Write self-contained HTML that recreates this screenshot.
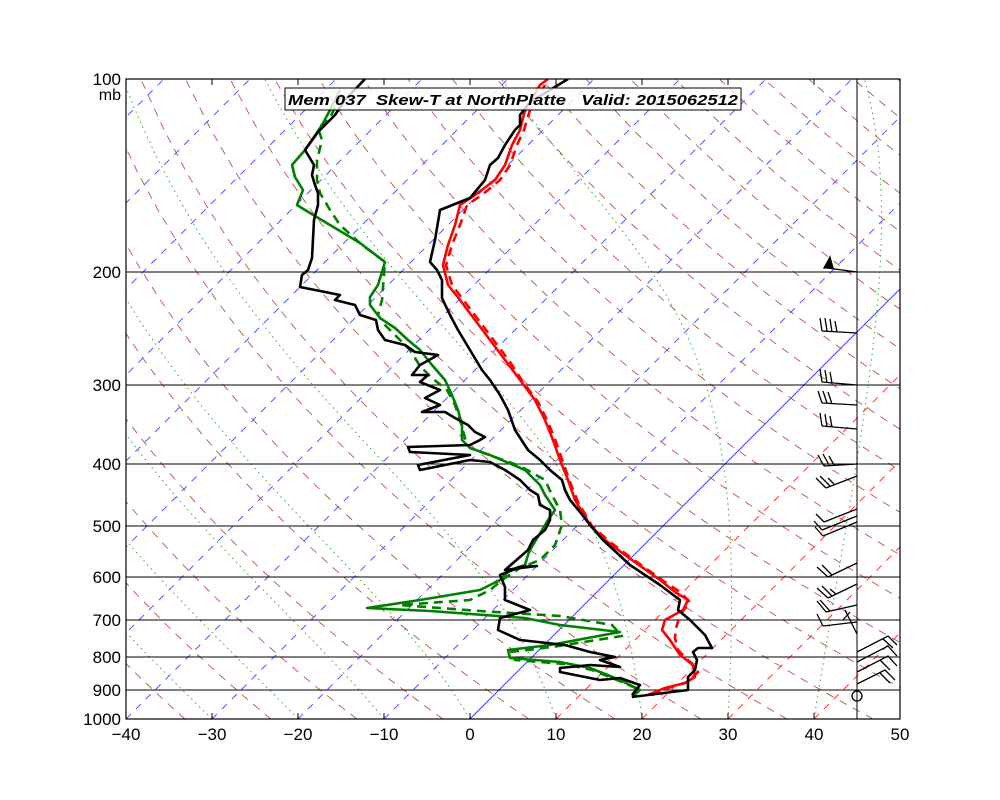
<!DOCTYPE html>
<html><head><meta charset="utf-8">
<style>
html,body{margin:0;padding:0;background:#fff;}
svg{display:block;font-family:"Liberation Sans","DejaVu Sans",sans-serif;}
</style></head>
<body>
<svg id="s" width="1000" height="800" viewBox="0 0 1000 800" xmlns="http://www.w3.org/2000/svg">
<defs><clipPath id="c"><rect x="126" y="79" width="774" height="640"/></clipPath></defs>
<rect width="1000" height="800" fill="#fff"/>
<g id="bg" clip-path="url(#c)"></g>
<g stroke="#000" stroke-width="1">
<line x1="126" y1="272" x2="900" y2="272"/>
<line x1="126" y1="385" x2="900" y2="385"/>
<line x1="126" y1="464" x2="900" y2="464"/>
<line x1="126" y1="526" x2="900" y2="526"/>
<line x1="126" y1="577" x2="900" y2="577"/>
<line x1="126" y1="620" x2="900" y2="620"/>
<line x1="126" y1="657" x2="900" y2="657"/>
<line x1="126" y1="690" x2="900" y2="690"/>
<line x1="857" y1="79" x2="857" y2="719"/>
</g>
<g clip-path="url(#c)" fill="none" stroke-width="2.6" stroke-linejoin="round">
<polyline stroke="#008000" stroke-dasharray="9,6" points="632,697 640,690 622,682 592,670 565,664 515,660 510,652 552,647 622,636 612,625 560,616 480,611 400,605 470,600 490,590 505,578 520,568 540,560 555,545 562,525 560,510 552,495 545,480 520,466 492,456 470,448 465,438 460,420 455,405 447,390 432,378 420,366 410,350 400,340 385,325 378,315 382,300 385,262 362,245 340,225 330,210 320,193 317,180 317,160 322,140 318,128 330,118 336,105 345,90"/>
<polyline stroke="#008000" points="632,697 640,690 620,680 590,668 560,662 510,658 508,650 550,645 620,632 560,625 525,618 430,611 367,608 420,600 480,590 500,580 510,570 525,565 528,555 530,550 548,520 555,510 545,495 540,485 525,470 490,455 470,448 462,440 462,425 458,410 452,395 445,380 432,365 420,350 408,340 395,328 380,318 370,305 370,297 378,285 385,262 360,243 330,225 305,210 297,205 303,190 295,177 292,165 305,150 312,140 322,125 330,110 340,90"/>
<polyline stroke="#000" points="632,695 640,685 620,678 600,680 560,672 560,668 590,665 620,667 600,660 615,657 590,652 565,645 520,640 498,630 500,618 530,610 505,600 505,587 500,575 520,567 537,566 505,570 528,550 533,540 545,530 550,520 550,510 540,505 538,495 530,490 520,480 505,470 490,462 470,460 420,470 418,465 470,455 410,452 408,447 470,445 480,440 485,437 475,432 468,425 455,418 445,412 422,412 440,405 425,398 440,390 420,382 428,375 412,375 420,365 438,355 415,352 405,345 385,340 378,330 376,320 360,315 355,305 335,300 340,295 325,292 300,287 302,275 308,270 312,258 314,220 318,205 318,193 315,185 312,175 314,165 305,150 318,132 325,125 335,115 345,100 365,79"/>
<polyline stroke="#f00" stroke-dasharray="9,6" points="652,695 668,688 688,682 698,672 690,662 678,650 675,638 676,628 680,615 690,602 680,592 665,582 630,557 610,542 592,526 578,502 570,482 563,462 556,442 548,422 538,402 523,382 510,362 495,342 480,322 465,302 452,285 446,265 452,245 460,225 467,205 482,195 500,180 510,165 517,145 524,130 530,110 545,85"/>
<polyline stroke="#f00" points="648,695 665,688 685,683 695,677 693,665 680,655 670,640 662,630 665,620 683,610 688,600 675,592 660,580 625,555 605,540 590,525 575,500 568,480 560,460 553,440 545,420 535,400 520,380 505,360 490,340 475,320 460,300 448,285 443,265 448,245 455,225 460,205 475,195 495,180 505,165 512,145 520,130 525,110 540,85 548,79"/>
<polyline stroke="#000" points="632,697 688,690 688,677 695,670 697,660 693,652 698,648 712,648 705,635 690,620 678,610 680,600 660,585 630,565 603,540 590,525 580,512 570,500 565,490 562,480 550,470 540,460 528,450 515,430 508,410 500,395 490,380 482,370 470,350 458,330 450,315 442,298 442,280 437,270 430,262 435,240 440,210 470,198 485,180 490,165 498,158 505,145 515,130 520,125 520,115 530,102 550,90 568,79"/>
</g>
<g stroke="#000" stroke-width="1.3" fill="none">
<path d="M857,272 L827,268 M824,268 L830,257 L833,268Z" fill="#000"/>
<path d="M857,333 L822,331 M822,331 L820,318 M827,331 L825,318 M832,332 L830,319 M837,332 L835,321"/>
<path d="M857,385 L822,382 M822,382 L820,369 M827,383 L825,370 M832,383 L830,372"/>
<path d="M857,405 L822,403 M822,403 L818,391 M827,403 L823,391 M832,404 L828,392"/>
<path d="M857,429 L822,426 M822,426 L820,413 M827,427 L825,414 M832,427 L830,416"/>
<path d="M857,464 L824,466 M824,466 L818,455 M829,465 L823,454 M834,465 L829,456"/>
<path d="M857,476 L826,488 M826,488 L816,478 M830,486 L820,476 M834,484 L828,478"/>
<path d="M857,509 L824,522 M857,516 L822,530 M857,522 L823,536 M824,522 L816,514 M822,530 L814,521 M823,536 L815,527"/>
<path d="M857,563 L828,577 M828,577 L817,567 M832,575 L822,565"/>
<path d="M857,584 L828,598 M828,598 L817,588 M832,596 L822,586 M836,594 L830,589"/>
<path d="M857,605 L826,612 M826,612 L817,601 M830,611 L820,600"/>
<path d="M857,622 L823,626 M823,626 L817,614 M845,610 L857,634 M843,620 L850,612"/>
<path d="M857,652 L888,636 L897,645 M883,639 L893,648 M857,662 L888,646 L897,656 M857,672 L888,656 L897,666 M880,660 L890,670 M857,684 L885,670 L895,680 M880,673 L890,683"/>
<circle cx="857" cy="696" r="5"/>
</g>
<rect x="126" y="79" width="774" height="640" fill="none" stroke="#000" stroke-width="1.2"/>
<g stroke="#000" stroke-width="1">
<line x1="212" y1="719" x2="212" y2="713"/><line x1="298" y1="719" x2="298" y2="713"/><line x1="384" y1="719" x2="384" y2="713"/><line x1="470" y1="719" x2="470" y2="713"/><line x1="556" y1="719" x2="556" y2="713"/><line x1="642" y1="719" x2="642" y2="713"/><line x1="728" y1="719" x2="728" y2="713"/><line x1="814" y1="719" x2="814" y2="713"/>
<line x1="212" y1="79" x2="212" y2="85"/><line x1="298" y1="79" x2="298" y2="85"/><line x1="384" y1="79" x2="384" y2="85"/><line x1="470" y1="79" x2="470" y2="85"/><line x1="556" y1="79" x2="556" y2="85"/><line x1="642" y1="79" x2="642" y2="85"/><line x1="728" y1="79" x2="728" y2="85"/><line x1="814" y1="79" x2="814" y2="85"/>
</g>
<g font-size="17" fill="#000">
<g text-anchor="end">
<text x="121" y="85">100</text><text x="121" y="100" font-size="16">mb</text>
<text x="121" y="278">200</text><text x="121" y="391">300</text><text x="121" y="470">400</text>
<text x="121" y="532">500</text><text x="121" y="583">600</text><text x="121" y="626">700</text>
<text x="121" y="663">800</text><text x="121" y="696">900</text><text x="121" y="725">1000</text>
</g>
<g text-anchor="middle">
<text x="126" y="740">−40</text><text x="212" y="740">−30</text><text x="298" y="740">−20</text><text x="384" y="740">−10</text><text x="470" y="740">0</text><text x="556" y="740">10</text><text x="642" y="740">20</text><text x="728" y="740">30</text><text x="814" y="740">40</text><text x="900" y="740">50</text>
</g>
</g>
<rect x="285" y="88" width="456" height="22" fill="#fff" fill-opacity="0.8" stroke="#000" stroke-width="1"/>
<text x="288" y="105" font-size="15" font-weight="bold" font-style="italic" textLength="450" lengthAdjust="spacingAndGlyphs">Mem 037&#160;&#160;Skew-T at NorthPlatte&#160;&#160;&#160;Valid: 2015062512</text>
</svg>
<script>
(function(){
var NS="http://www.w3.org/2000/svg",g=document.getElementById("bg");
function Y(p){return 79+640*Math.log10(p/100);}
function X(T,p){return 126+(T+40)*8.6+(719-Y(p));}
function line(pts,st,da,w){var e=document.createElementNS(NS,"polyline");e.setAttribute("points",pts.map(function(q){return q[0].toFixed(1)+","+q[1].toFixed(1)}).join(" "));e.setAttribute("fill","none");e.setAttribute("stroke",st);e.setAttribute("stroke-width",w||1);if(da)e.setAttribute("stroke-dasharray",da);g.appendChild(e);}
for(var T=-140;T<=50;T+=10){var c=T<0?"#44f":(T==0?"#22f":"#f22");line([[X(T,1000),Y(1000)],[X(T,100),Y(100)]],c,T==0?null:"7,7",0.9);}
for(var th=230;th<=500;th+=10){var a=[];for(var p=1000;p>=100;p-=20){a.push([X(th*Math.pow(p/1000,0.286)-273.15,p),Y(p)]);}line(a,"#c05050","8,7",0.9);}
function es(T){return 6.112*Math.exp(17.67*T/(T+243.5));}
for(var T0=-30;T0<=40;T0+=10){var Tk=T0+273.15,a=[],p=1000;while(p>=100){var Tc=Tk-273.15;a.push([X(Tc,p),Y(p)]);var rs=0.622*es(Tc)/(p-es(Tc));var L=2.5e6,Rd=287,cp=1004;var dTdp=(Rd*Tk+L*rs)/(p*(cp+L*L*rs*0.622/(Rd*Tk*Tk)));Tk-=dTdp*5;p-=5;}line(a,"#3a3","1.5,4",1);}
})();
</script>
</body></html>
